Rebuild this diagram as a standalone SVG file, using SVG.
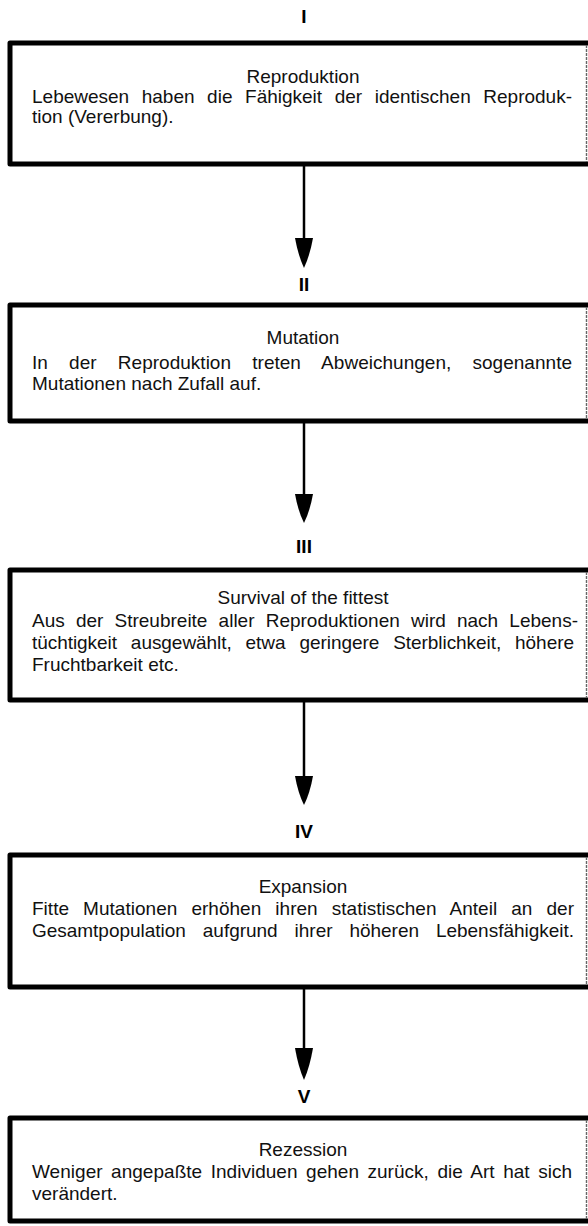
<svg xmlns="http://www.w3.org/2000/svg" width="588" height="1226" viewBox="0 0 588 1226">
<style>
.bg{fill:#fff}
.frame{fill:none;stroke:#000;stroke-width:5;stroke-linejoin:round;stroke-linecap:round}
.edge{stroke:#666;stroke-width:1.4;stroke-dasharray:3 1}
.t{font-family:"Liberation Sans",Arial,sans-serif;font-size:19px;fill:#111}
.c{text-anchor:middle}
.num{font-family:"Liberation Sans",Arial,sans-serif;font-size:19px;font-weight:700;fill:#000;text-anchor:middle}
.shaft{stroke:#000;stroke-width:2.5}
.head{fill:#000}
</style>
<rect class="bg" width="588" height="1226"/>
<g id="connectors">
<line class="shaft" x1="304" y1="166" x2="304" y2="240"/>
<path class="head" d="M295 238 L313 238 Q310 255 304 268 Q298 255 295 238 Z"/>
<line class="shaft" x1="304" y1="423" x2="304" y2="497"/>
<path class="head" d="M295 494 L313 494 Q310 511 304 523 Q298 511 295 494 Z"/>
<line class="shaft" x1="304" y1="702" x2="304" y2="778"/>
<path class="head" d="M295 776 L313 776 Q310 793 304 805 Q298 793 295 776 Z"/>
<line class="shaft" x1="304" y1="989" x2="304" y2="1050"/>
<path class="head" d="M295 1048 L313 1048 Q310 1066 304 1080 Q298 1066 295 1048 Z"/>
</g>
<g id="labels">
<text class="num" x="304" y="23">I</text>
<text class="num" x="304" y="291">II</text>
<text class="num" x="304" y="553">III</text>
<text class="num" x="304" y="838">IV</text>
<text class="num" x="304" y="1103">V</text>
</g>
<g id="node1">
<path class="frame" d="M588 43 H10 V164 H588"/>
<line class="edge" x1="586.5" y1="45" x2="586.5" y2="162"/>
<text class="t c" x="303" y="83">Reproduktion</text>
<text class="t" x="32" y="103" style="word-spacing:7.27px" textLength="540" lengthAdjust="spacing">Lebewesen haben die Fähigkeit der identischen Reproduk-</text>
<text class="t" x="32" y="123">tion (Vererbung).</text>
</g>
<g id="node2">
<path class="frame" d="M588 305 H10 V421 H588"/>
<line class="edge" x1="586.5" y1="307" x2="586.5" y2="419"/>
<text class="t c" x="303" y="344">Mutation</text>
<text class="t" x="32" y="369" style="word-spacing:15.9px" textLength="540" lengthAdjust="spacing">In der Reproduktion treten Abweichungen, sogenannte</text>
<text class="t" x="32" y="390">Mutationen nach Zufall auf.</text>
</g>
<g id="node3">
<path class="frame" d="M588 570 H10 V700 H588"/>
<line class="edge" x1="586.5" y1="572" x2="586.5" y2="698"/>
<text class="t c" x="303" y="604">Survival of the fittest</text>
<text class="t" x="32" y="627" style="word-spacing:5.89px" textLength="546" lengthAdjust="spacing">Aus der Streubreite aller Reproduktionen wird nach Lebens-</text>
<text class="t" x="32" y="649" style="word-spacing:8.66px" textLength="542" lengthAdjust="spacing">tüchtigkeit ausgewählt, etwa geringere Sterblichkeit, höhere</text>
<text class="t" x="32" y="671">Fruchtbarkeit etc.</text>
</g>
<g id="node4">
<path class="frame" d="M588 855 H10 V987 H588"/>
<line class="edge" x1="586.5" y1="857" x2="586.5" y2="985"/>
<text class="t c" x="303" y="893">Expansion</text>
<text class="t" x="32" y="915" style="word-spacing:8.78px" textLength="542" lengthAdjust="spacing">Fitte Mutationen erhöhen ihren statistischen Anteil an der</text>
<text class="t" x="32" y="937" style="word-spacing:11.66px" textLength="542" lengthAdjust="spacing">Gesamtpopulation aufgrund ihrer höheren Lebensfähigkeit.</text>
</g>
<g id="node5">
<path class="frame" d="M588 1118 H10 V1221 H588"/>
<line class="edge" x1="586.5" y1="1120" x2="586.5" y2="1219"/>
<text class="t c" x="303" y="1156">Rezession</text>
<text class="t" x="32" y="1178" style="word-spacing:3.21px" textLength="540" lengthAdjust="spacing">Weniger angepaßte Individuen gehen zurück, die Art hat sich</text>
<text class="t" x="32" y="1200">verändert.</text>
</g>
</svg>
